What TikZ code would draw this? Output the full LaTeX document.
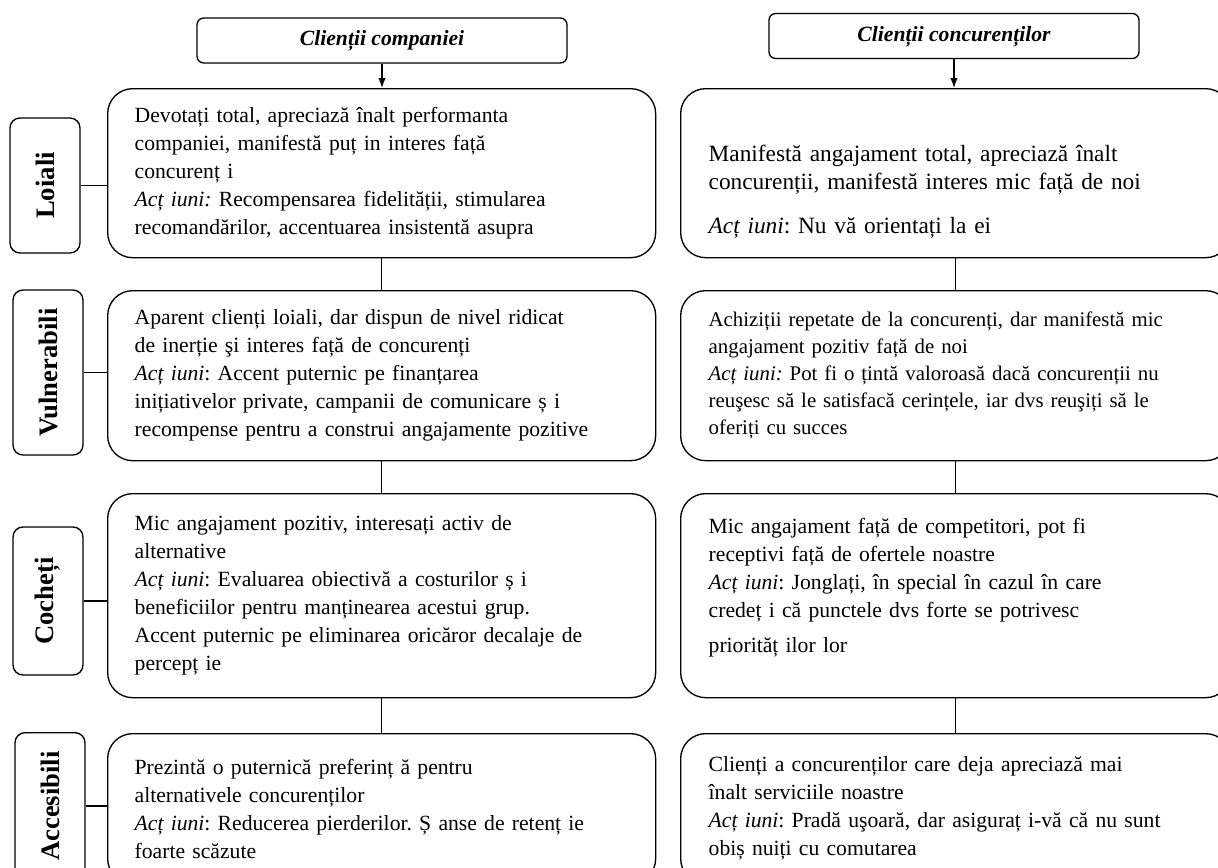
\documentclass[tikz,border=0pt]{standalone}
\usepackage{fontspec}
\setmainfont{Liberation Serif}
\usetikzlibrary{arrows.meta}
\frenchspacing

\begin{document}
\begin{tikzpicture}[x=0.6pt, y=-0.6pt, line width=0.8pt,
    headbox/.style={draw, rounded corners=4pt, minimum width=222pt, minimum height=27pt,
      text height=9pt, text depth=3pt, font=\bfseries\itshape\fontsize{13}{15}\selectfont},
    labelbox/.style={draw, rounded corners=6pt, rotate=90, minimum height=42pt,
      font=\bfseries\fontsize{16}{18}\selectfont},
    leftbox/.style={draw, rounded corners=15pt, anchor=north west, align=left,
      minimum width=328.8pt, inner xsep=16.2pt, text width=296.4pt,
      font=\fontsize{13}{16.8}\selectfont},
    rightbox/.style={leftbox, minimum width=330pt, inner xsep=16.8pt, text width=296.4pt}]
  \clip (0,0) rectangle (1218,868);

  % column heads
  \node[headbox] (hcomp) at (382,40.5) {Clienții companiei};
  \node[headbox] (hconc) at (954,36) {Clienții concurenților};

  % left column
  \node[leftbox, minimum height=101.4pt] (l1) at (107,88) {%
    Devotați total, apreciază înalt performanta\\
    companiei, manifestă puț in interes față\\
    concurenț i\\
    \textit{Acț iuni:} Recompensarea fidelității, stimularea\\
    recomandărilor, accentuarea insistentă asupra};
  \node[leftbox, minimum height=102pt] (l2) at (107,290) {%
    Aparent clienți loiali, dar dispun de nivel ridicat\\
    de inerție şi interes față de concurenți\\
    \textit{Acț iuni}: Accent puternic pe finanțarea\\
    inițiativelor private, campanii de comunicare ș i\\
    recompense pentru a construi angajamente pozitive};
  \node[leftbox, minimum height=122.4pt] (l3) at (107,493) {%
    Mic angajament pozitiv, interesați activ de\\
    alternative\\
    \textit{Acț iuni}: Evaluarea obiectivă a costurilor ș i\\
    beneficiilor pentru manținearea acestui grup.\\
    Accent puternic pe eliminarea oricăror decalaje de\\
    percepț ie};
  \node[leftbox, minimum height=90pt] (l4) at (107,733) {%
    Prezintă o puternică preferinț ă pentru\\
    alternativele concurenților\\
    \textit{Acț iuni}: Reducerea pierderilor. Ș anse de retenț ie\\
    foarte scăzute};

  % right column
  \node[rightbox, minimum height=101.4pt, font=\fontsize{14}{16.8}\selectfont] (r1) at (680,88) {%
    \rule{0pt}{32pt}Manifestă angajament total, apreciază înalt\\
    concurenții, manifestă interes mic față de noi\\[10pt]
    \textit{Acț iuni}: Nu vă orientați la ei};
  \node[rightbox, minimum height=102pt, font=\fontsize{12.5}{16.2}\selectfont] (r2) at (680,290) {%
    Achiziții repetate de la concurenți, dar manifestă mic\\
    angajament pozitiv față de noi\\
    \textit{Acț iuni:} Pot fi o țintă valoroasă dacă concurenții nu\\
    reuşesc să le satisfacă cerințele, iar dvs reuşiți să le\\
    oferiți cu succes};
  \node[rightbox, minimum height=122.4pt] (r3) at (680,493) {%
    Mic angajament față de competitori, pot fi\\
    receptivi față de ofertele noastre\\
    \textit{Acț iuni}: Jonglați, în special în cazul în care\\
    credeț i că punctele dvs forte se potrivesc\\[4pt]
    priorităț ilor lor\rule[-12pt]{0pt}{0pt}};
  \node[rightbox, minimum height=90pt] (r4) at (680,733) {%
    Clienți a concurenților care deja apreciază mai\\
    înalt serviciile noastre\\
    \textit{Acț iuni}: Pradă uşoară, dar asiguraț i-vă că nu sunt\\
    obiș nuiți cu comutarea};

  % row labels
  \node[labelbox, minimum width=81pt] (loiali) at (45,185.5) {Loiali};
  \node[labelbox, minimum width=99pt] (vulner) at (48,372.5) {Vulnerabili};
  \node[labelbox, minimum width=88.8pt] (cochet) at (48,601) {Cocheți};
  \node[labelbox, minimum width=88pt] (accesi) at (50,806) {Accesibili};

  % connectors
  \draw[-{Latex[length=6pt,width=4.5pt]}] (hcomp.south) -- (hcomp.south |- l1.north);
  \draw[-{Latex[length=6pt,width=4.5pt]}] (hconc.south) -- (hconc.south |- r1.north);
  \draw (l1.south) -- (l2.north);
  \draw (l2.south) -- (l3.north);
  \draw (l3.south) -- (l4.north);
  \draw (r1.south) -- (r2.north);
  \draw (r2.south) -- (r3.north);
  \draw (r3.south) -- (r4.north);
  \draw (loiali.south) -- (loiali.south -| l1.west);
  \draw (vulner.south) -- (vulner.south -| l2.west);
  \draw (cochet.south) -- (cochet.south -| l3.west);
  \draw (accesi.south) -- (accesi.south -| l4.west);
\end{tikzpicture}
\end{document}
